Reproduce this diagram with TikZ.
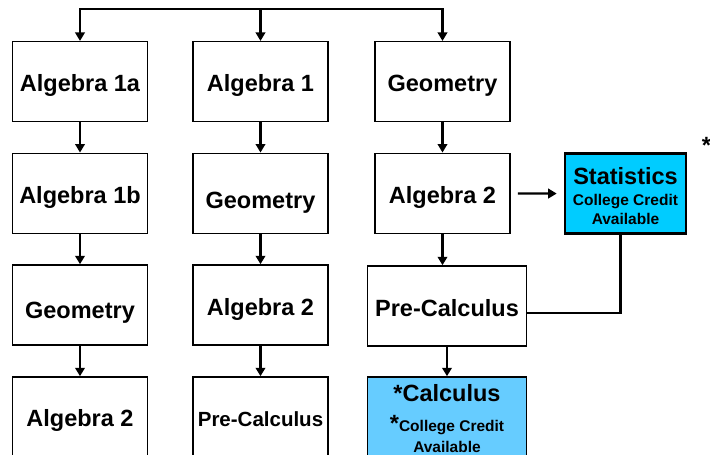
\documentclass[tikz,border=0pt]{standalone}
\usepackage{fontspec}
\setmainfont{Liberation Sans}
\usetikzlibrary{arrows.meta,positioning}
\definecolor{cstat}{HTML}{00CCFF}
\definecolor{ccalc}{HTML}{66CCFF}
\newcommand{\bigtxt}{\fontsize{23.5}{26}\selectfont}
\newcommand{\smalltxt}{\fontsize{15.5}{19}\selectfont}

\begin{document}
\begin{tikzpicture}[x=1pt,y=-1pt,
    course/.style={draw=black,line width=1.5pt,minimum width=135pt,minimum height=80pt,inner sep=2pt,
      text height=20pt,text depth=0pt,font=\bfseries\bigtxt},
    credit/.style={course,text height=,text depth=,align=center,inner sep=0pt,font=\bfseries\smalltxt},
    flow/.style={line width=2.3pt,-{Triangle[length=8.5pt,width=9.5pt]}}]
  \useasboundingbox (0,0) rectangle (710,455);
  \clip (0,0) rectangle (710,455);
  % first column
  \node[course] (alg1a) at (80,81.7) {Algebra 1a};
  \node[course] (alg1b) at (80,193.3) {Algebra 1b};
  \node[course] (geo1) at (80,305) {\raisebox{-3.5pt}{Geometry}};
  \node[course,minimum height=90pt] (alg2a) at (80,422) {\raisebox{5.5pt}{Algebra 2}};
  % second column
  \node[course] (alg1) at (260.5,81.7) {Algebra 1};
  \node[course] (geo2) at (260.5,193.3) {\raisebox{-5.2pt}{Geometry}};
  \node[course] (alg2b) at (260.5,305) {Algebra 2};
  \node[course,minimum height=90pt,font=\bfseries\fontsize{20.5}{24}\selectfont] (pc2) at (260.5,422) {\raisebox{5.5pt}{Pre-Calculus}};
  % third column
  \node[course] (geo3) at (442.5,81.7) {Geometry};
  \node[course] (alg2c) at (442.5,193.3) {Algebra 2};
  \node[course,minimum width=159pt] (pc3) at (447,306) {Pre-Calculus};
  \node[credit,minimum width=159pt,minimum height=83.5pt,fill=ccalc] (calc) at (447,418.75)
    {{\bigtxt *Calculus}\\[11pt]{\bigtxt *}College Credit\\[2.5pt]Available};
  % statistics
  \node[credit,minimum width=121pt,line width=2.6pt,fill=cstat] (stat) at (625.5,193.7)
    {{\bigtxt\rule{0pt}{22.2pt}Statistics}\\[1.5pt]College Credit\\Available};
  \node[font=\bfseries\bigtxt,anchor=base,inner sep=0pt] (note) at (706.5,153.7) {*};
  % connectors
  \coordinate (bus) at (260.5,9);
  \draw[flow] (bus) -| (alg1a);
  \draw[flow] (bus) -| (geo3);
  \draw[flow] (bus) -- (alg1);
  \foreach \a/\b in {alg1a/alg1b,alg1b/geo1,geo1/alg2a,alg1/geo2,geo2/alg2b,alg2b/pc2,geo3/alg2c,alg2c/pc3,pc3/calc}
    \draw[flow] (\a.south) -- (\a.south |- \b.north);
  \draw[flow,shorten <=7pt,shorten >=7pt] (alg2c) -- (stat);
  \draw[line width=2.5pt] ([xshift=-5pt]stat.south) |- ([yshift=-7pt]pc3.east);
\end{tikzpicture}
\end{document}
